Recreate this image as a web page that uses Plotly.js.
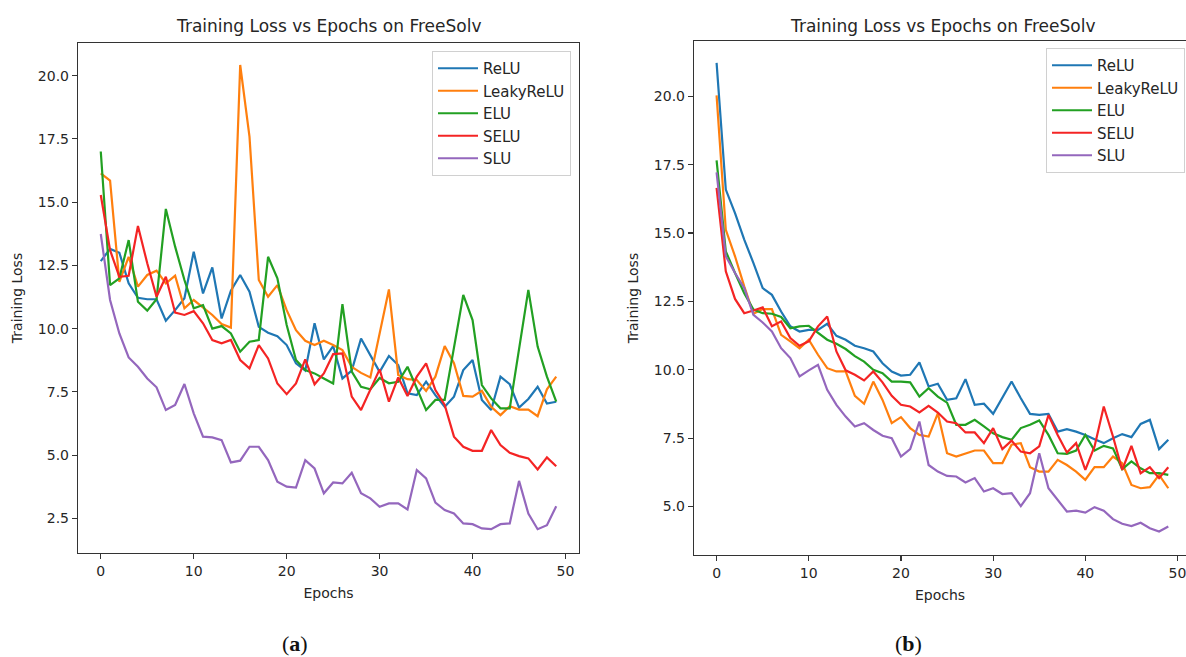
<!DOCTYPE html>
<html>
<head>
<meta charset="utf-8">
<script src="https://cdn.plot.ly/plotly-3.0.1.min.js"></script>
<style>html,body{margin:0;padding:0;background:#fff;}#chart{width:1186px;height:657px;}</style>
</head>
<body>
<div id="chart"></div>
<script>
const epochs = [0,1,2,3,4,5,6,7,8,9,10,11,12,13,14,15,16,17,18,19,20,21,22,23,24,25,26,27,28,29,30,31,32,33,34,35,36,37,38,39,40,41,42,43,44,45,46,47,48,49];
const seriesNames = ["ReLU","LeakyReLU","ELU","SELU","SLU"];
const chartTitle = "Training Loss vs Epochs on FreeSolv";
const xLabel = "Epochs";
const yLabel = "Training Loss";
const panelLabels = ["a","b"];

// (a)
const a_relu = [12.67,13.15,13.0,11.79,11.22,11.16,11.16,10.31,10.73,11.2,13.04,11.39,12.42,10.4,11.5,12.12,11.46,10.07,9.84,9.7,9.35,8.63,8.34,10.21,8.78,9.31,8.03,8.34,9.61,8.95,8.29,8.92,8.56,7.44,7.37,7.9,7.37,6.91,7.31,8.36,8.76,7.18,6.78,8.1,7.8,6.88,7.22,7.7,7.04,7.11];
const a_leaky = [16.14,15.85,11.85,12.84,11.66,12.12,12.29,11.79,12.09,10.8,11.13,10.84,10.54,10.18,10.04,20.42,17.59,11.92,11.26,11.72,10.73,9.94,9.52,9.35,9.52,9.35,9.15,8.49,8.25,8.07,9.8,11.55,8.17,8.0,7.97,7.54,8.1,9.31,8.63,7.34,7.31,7.54,6.91,6.58,6.93,6.8,6.8,6.54,7.6,8.1];
const a_elu = [17.0,11.72,11.99,13.5,11.06,10.71,11.16,14.73,13.24,11.92,10.8,10.93,10.0,10.1,9.81,9.09,9.48,9.55,12.84,11.99,10.14,8.76,8.36,8.23,8.03,7.83,10.97,8.3,7.7,7.6,8.05,7.84,7.9,8.49,7.64,6.78,7.18,7.18,9.25,11.33,10.34,7.77,7.24,6.85,6.85,9.2,11.53,9.29,8.1,7.11];
const a_selu = [15.28,13.1,12.05,12.09,14.06,12.58,11.26,12.05,10.63,10.54,10.69,10.21,9.55,9.42,9.55,8.76,8.43,9.35,8.82,7.83,7.41,7.83,8.78,7.8,8.23,8.99,9.02,7.31,6.78,7.57,8.39,7.11,8.07,7.34,8.1,8.63,7.57,6.98,5.73,5.33,5.17,5.17,5.99,5.4,5.09,4.96,4.87,4.43,4.91,4.56];
const a_slu = [13.74,11.13,9.81,8.86,8.49,8.03,7.68,6.78,6.98,7.81,6.65,5.73,5.7,5.59,4.71,4.78,5.33,5.33,4.8,3.95,3.75,3.72,4.8,4.47,3.49,3.92,3.88,4.3,3.49,3.29,2.96,3.09,3.09,2.85,4.41,4.08,3.12,2.83,2.69,2.3,2.27,2.1,2.07,2.27,2.3,3.98,2.69,2.07,2.23,2.98];

// (b)
const b_relu = [21.22,16.59,15.73,14.76,13.9,12.99,12.74,12.13,11.59,11.4,11.46,11.46,11.68,11.24,11.1,10.88,10.79,10.67,10.24,9.94,9.79,9.82,10.27,9.39,9.49,8.9,8.96,9.66,8.72,8.76,8.39,8.96,9.57,8.96,8.39,8.35,8.39,7.74,7.83,7.74,7.62,7.46,7.32,7.5,7.65,7.54,8.02,8.17,7.1,7.44];
const b_leaky = [20.03,15.12,14.15,13.05,12.05,12.22,12.22,11.28,11.04,10.79,11.1,10.55,10.06,9.94,9.94,9.05,8.76,9.57,8.9,8.05,8.27,7.87,7.62,7.56,8.41,6.95,6.83,6.93,7.05,7.05,6.59,6.59,7.26,7.32,6.44,6.28,6.28,6.71,6.52,6.28,5.98,6.44,6.44,6.83,6.59,5.79,5.67,5.71,6.16,5.67];
const b_elu = [17.66,14.33,13.54,12.8,12.2,12.07,12.05,11.93,11.52,11.59,11.61,11.37,11.1,10.95,10.76,10.5,10.3,10.0,9.88,9.57,9.57,9.54,9.02,9.33,9.02,8.8,7.99,7.99,8.17,7.93,7.68,7.54,7.44,7.87,7.99,8.15,7.62,6.95,6.93,7.05,7.62,7.05,7.22,7.13,6.37,6.65,6.4,6.22,6.22,6.16];
const b_selu = [16.65,13.6,12.59,12.07,12.17,12.28,11.59,11.77,11.16,10.88,11.04,11.59,11.95,10.67,9.98,9.82,9.61,9.94,9.54,9.05,8.72,8.66,8.44,8.68,8.44,8.11,8.05,7.71,7.71,7.32,7.87,7.1,7.41,7.01,6.95,7.2,8.35,7.62,6.98,7.32,6.34,7.2,8.66,7.56,6.34,7.22,6.22,6.44,6.04,6.44];
const b_slu = [17.22,14.15,13.54,12.99,12.01,11.73,11.4,10.79,10.43,9.76,9.98,10.18,9.27,8.72,8.29,7.93,8.05,7.8,7.59,7.5,6.83,7.1,8.11,6.52,6.28,6.12,6.1,5.88,6.04,5.55,5.67,5.46,5.49,5.02,5.49,6.95,5.67,5.24,4.82,4.85,4.78,4.98,4.85,4.54,4.37,4.29,4.41,4.21,4.09,4.27];

const colors = ["#1f77b4","#ff7f0e","#22a022","#f42424","#9467bd"];
const FONT = "DejaVu Sans, Verdana, sans-serif";
const TXT = "#262626";

const aData = [a_relu,a_leaky,a_elu,a_selu,a_slu];
const bData = [b_relu,b_leaky,b_elu,b_selu,b_slu];

const traces = [];
aData.forEach((ys,i)=>traces.push({x:epochs,y:ys,type:"scatter",mode:"lines",name:seriesNames[i],
  line:{color:colors[i],width:2.2},xaxis:"x",yaxis:"y",legend:"legend"}));
bData.forEach((ys,i)=>traces.push({x:epochs,y:ys,type:"scatter",mode:"lines",name:seriesNames[i],
  line:{color:colors[i],width:2.2},xaxis:"x2",yaxis:"y2",legend:"legend2"}));

function axisBase(){
  return {showline:true,mirror:true,linecolor:"#333",linewidth:1.2,ticks:"outside",ticklen:5,tickwidth:1.2,
    tickcolor:"#333",showgrid:false,zeroline:false,tickfont:{family:FONT,size:14,color:TXT},automargin:false,
    ticklabeloverflow:"allow"};
}
const W=1186,H=657;
const xa = Object.assign(axisBase(),{domain:[78/W,579/W],range:[-2.45,51.45],tick0:0,dtick:10,anchor:"y",
  title:{text:xLabel,font:{family:FONT,size:14,color:TXT},standoff:10}});
const ya = Object.assign(axisBase(),{domain:[1-553/H,1-43/H],range:[1.13,21.29],tick0:0,dtick:2.5,tickformat:".1f",anchor:"x",
  title:{text:yLabel,font:{family:FONT,size:14,color:TXT},standoff:12}});
const xb = Object.assign(axisBase(),{domain:[694/W,1],range:[-2.45,50.92],tick0:0,dtick:10,anchor:"y2",
  title:{text:xLabel,font:{family:FONT,size:14,color:TXT},standoff:10}});
const yb = Object.assign(axisBase(),{domain:[1-555/H,1-41/H],range:[3.23,22.02],tick0:0,dtick:2.5,tickformat:".1f",anchor:"x2",
  title:{text:yLabel,font:{family:FONT,size:14,color:TXT},standoff:12}});

function legendCfg(x,y){
  return {x:x,y:y,xanchor:"left",yanchor:"top",bgcolor:"rgba(255,255,255,0.85)",bordercolor:"#d0d0d0",borderwidth:1,
    font:{family:FONT,size:15,color:TXT},itemwidth:40,tracegroupgap:0};
}

const layout = {
  width:W,height:H,autosize:false,margin:{l:0,r:0,t:0,b:0},paper_bgcolor:"#fff",plot_bgcolor:"#fff",
  showlegend:true,
  xaxis:xa,yaxis:ya,xaxis2:xb,yaxis2:yb,
  legend:legendCfg(432/W,1-51/H),
  legend2:legendCfg(1046/W,1-48/H),
  annotations:[
    {text:chartTitle,xref:"paper",yref:"paper",x:(78+579)/2/W,y:1-26/H,xanchor:"center",yanchor:"middle",showarrow:false,
      font:{family:FONT,size:17,color:TXT}},
    {text:chartTitle,xref:"paper",yref:"paper",x:(694+1191)/2/W,y:1-26/H,xanchor:"center",yanchor:"middle",showarrow:false,
      font:{family:FONT,size:17,color:TXT}},
    {text:"(<b>"+panelLabels[0]+"</b>)",xref:"paper",yref:"paper",x:295/W,y:1-643/H,xanchor:"center",yanchor:"middle",showarrow:false,
      font:{family:"Liberation Serif, serif",size:22,color:"#111"}},
    {text:"(<b>"+panelLabels[1]+"</b>)",xref:"paper",yref:"paper",x:908/W,y:1-643/H,xanchor:"center",yanchor:"middle",showarrow:false,
      font:{family:"Liberation Serif, serif",size:22,color:"#111"}}
  ]
};
Plotly.newPlot("chart",traces,layout,{displayModeBar:false,staticPlot:true});
</script>
</body>
</html>
